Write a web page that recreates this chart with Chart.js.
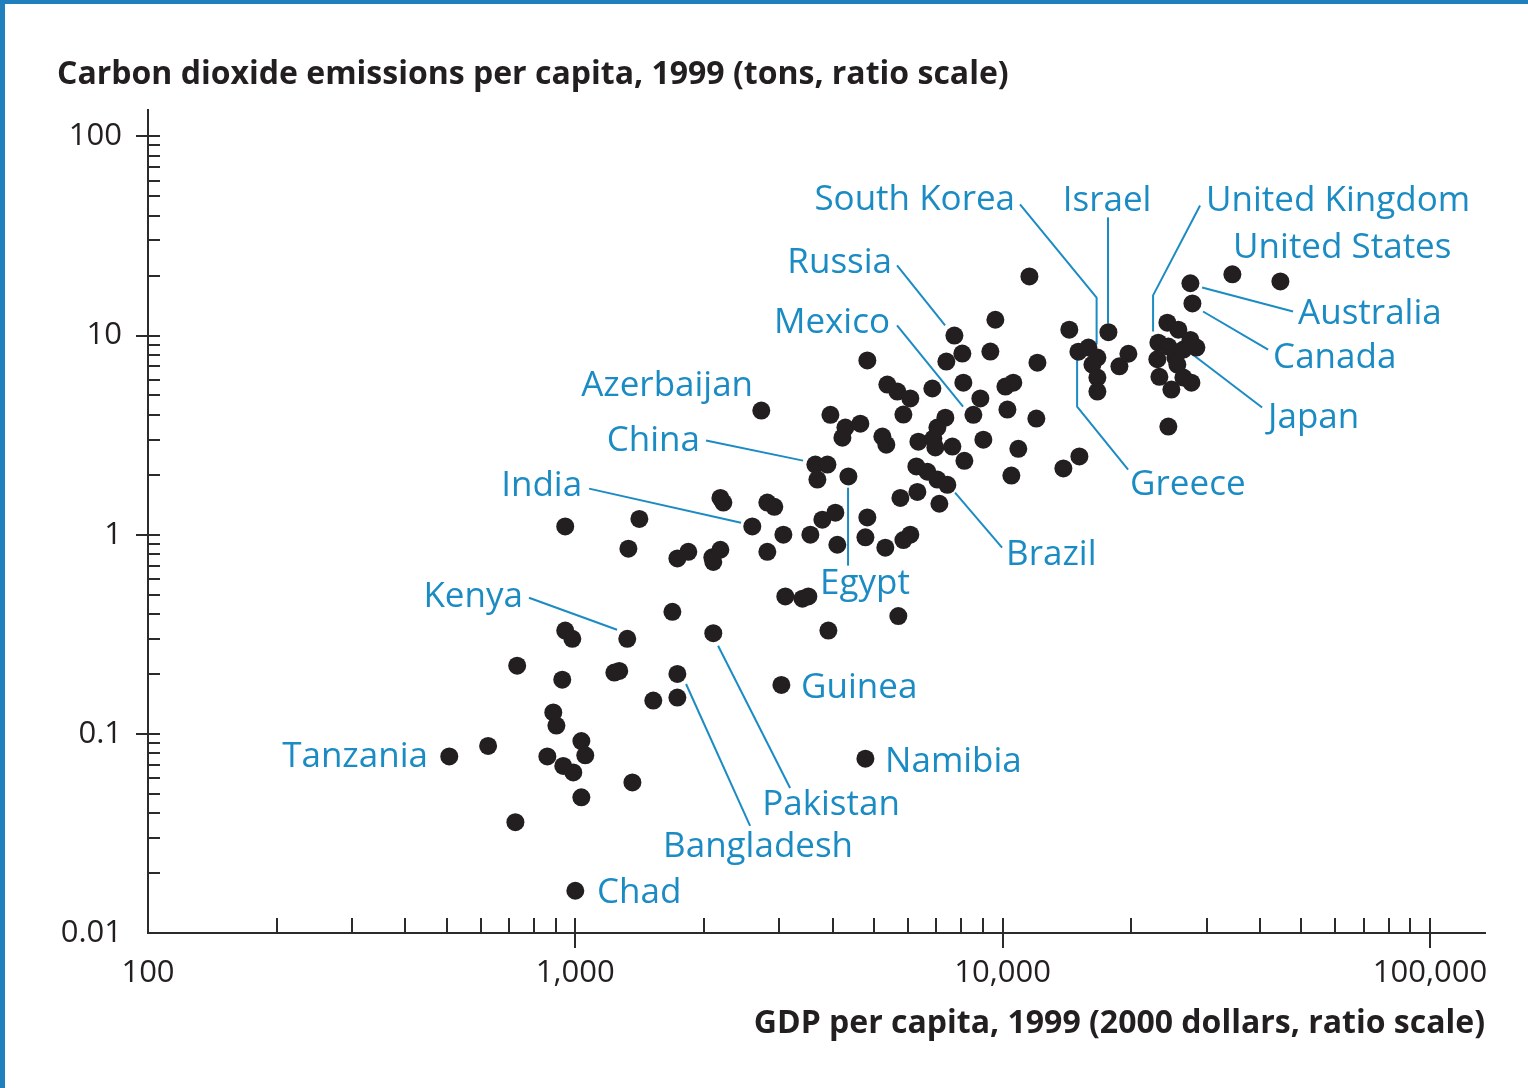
<!DOCTYPE html>
<html>
<head>
<meta charset="utf-8">
<script src="https://cdn.jsdelivr.net/npm/chart.js@4.4.1/dist/chart.umd.min.js"></script>
<style>
html, body { margin: 0; padding: 0; background: #fff; }
canvas { display: block; }
</style>
</head>
<body>
<canvas id="chart" width="1528" height="1088"></canvas>
<script>
// GDP per capita (2000 dollars) and CO2 per capita (tons), one entry per country
const gdpPerCapita = [507, 625, 724, 731, 860, 888, 903, 932, 947, 984,
  937, 989, 1033, 1055, 1033, 1000, 1360, 1323, 1234, 1267,
  1522, 1733, 1733, 1687, 2103, 3035, 4773, 3100, 3400, 3510,
  3910, 5700, 947, 1412, 1331, 1733, 1838, 2092, 2185, 2103,
  2595, 2185, 2220, 2814, 2922, 2814, 3068, 3548, 4103, 3785,
  4060, 4823, 4773, 5314, 5857, 6080, 5763, 6316, 4355, 3645,
  3890, 3685, 2724, 3953, 4285, 4645, 4217, 5230, 5343, 6350,
  4823, 5372, 5670, 6080, 5857, 6847, 7344, 7035, 6884, 6958,
  7626, 9012, 8137, 6281, 6666, 7035, 7423, 7110, 10480, 10880,
  11990, 13870, 15120, 8540, 8868, 10150, 10590, 10260, 8091, 8047,
  7383, 9359, 7710, 9614, 12060, 11550, 14320, 17680, 15040, 15870,
  16660, 16220, 16660, 16660, 18760, 19690, 24290, 25770, 23140, 27500,
  28400, 23010, 25360, 24420, 23270, 24820, 26480, 27650, 25630, 24420,
  27500, 27800, 34480, 44660, 26480];

const co2PerCapita = [0.077, 0.087, 0.036, 0.22, 0.077, 0.128, 0.11, 0.187, 0.33, 0.30,
  0.069, 0.064, 0.092, 0.078, 0.048, 0.0163, 0.057, 0.30, 0.203, 0.207,
  0.147, 0.20, 0.152, 0.41, 0.32, 0.176, 0.075, 0.49, 0.477, 0.49,
  0.33, 0.39, 1.10, 1.20, 0.85, 0.76, 0.82, 0.77, 0.84, 0.73,
  1.10, 1.53, 1.45, 1.45, 1.38, 0.82, 1.0, 1.0, 0.89, 1.19,
  1.29, 1.22, 0.97, 0.86, 0.94, 1.0, 1.53, 1.64, 1.96, 2.25,
  2.25, 1.89, 4.2, 4.0, 3.45, 3.61, 3.07, 3.11, 2.83, 2.93,
  7.5, 5.67, 5.23, 4.83, 4.01, 5.42, 3.87, 3.45, 3.04, 2.74,
  2.77, 3.0, 2.35, 2.2, 2.07, 1.89, 1.78, 1.43, 1.98, 2.7,
  3.83, 2.15, 2.47, 4.0, 4.83, 5.54, 5.8, 4.25, 5.8, 8.12,
  7.4, 8.31, 10.0, 12.0, 7.3, 19.8, 10.7, 10.4, 8.3, 8.7,
  7.75, 7.15, 6.15, 5.23, 7.0, 8.1, 11.6, 10.7, 9.2, 9.5,
  8.7, 7.6, 7.75, 8.8, 6.2, 5.35, 6.15, 5.8, 7.15, 3.49,
  18.3, 14.5, 20.3, 18.7, 8.5];

// axis ticks (decades)
const xTicks = [100, 1000, 10000, 100000];
const yTicks = [0.01, 0.1, 1, 10, 100];

const xTitle = "GDP per capita, 1999 (2000 dollars, ratio scale)";
const yTitle = "Carbon dioxide emissions per capita, 1999 (tons, ratio scale)";

// country labels, placed in data units
const labelNames = ["South Korea", "Israel", "United Kingdom", "United States", "Russia", "Mexico",
  "Azerbaijan", "China", "India", "Kenya", "Tanzania", "Chad", "Bangladesh", "Pakistan",
  "Guinea", "Namibia", "Egypt", "Brazil", "Greece", "Japan", "Canada", "Australia"];
const labelGdp = [10690, 17550, 29920, 34610, 5510, 5450, 2606, 1958, 1037, 754, 452, 1124,
  2677, 3966, 3375, 5307, 4764, 10186, 19870, 41800, 42940, 49130];
const labelCo2 = [47.8, 47.3, 47.3, 27.4, 23.1, 11.5, 5.55, 2.94, 1.745, 0.484, 0.0768, 0.0159,
  0.0271, 0.0441, 0.169, 0.0725, 0.562, 0.786, 1.767, 3.835, 7.68, 12.78];
const labelAlign = ["right", "center", "left", "left", "right", "right", "right", "right", "right",
  "right", "right", "left", "center", "center", "left", "left", "center", "left", "left",
  "left", "left", "left"];

// leader lines [gdp, co2] points
const leaderLines = [
  [[10980, 45.5], [16590, 15.52], [16590, 9.01]],   // South Korea
  [[17640, 39.2], [17640, 11.49]],                  // Israel
  [[28970, 45.0], [22490, 15.9], [22490, 10.47]],   // United Kingdom
  [[5660, 22.47], [7332, 11.23]],                   // Russia
  [[5660, 11.23], [8077, 4.40]],                    // Mexico
  [[2022, 2.968], [3411, 2.354]],                   // China
  [[1077, 1.703], [2442, 1.149]],                   // India
  [[779, 0.4825], [1252, 0.3333]],                  // Kenya
  [[2564, 0.0345], [1816, 0.178]],                  // Bangladesh
  [[3181, 0.0535], [2158, 0.277]],                  // Pakistan
  [[4347, 0.699], [4347, 1.722]],                   // Egypt
  [[9968, 0.860], [7737, 1.626]],                   // Brazil
  [[19660, 2.121], [14935, 4.40], [14935, 7.57]],   // Greece
  [[40470, 4.347], [26870, 8.506]],                 // Japan
  [[29440, 13.2], [41800, 8.506]],                  // Canada
  [[29290, 17.42], [47820, 13.2]]                   // Australia
];

const BLUE = "#1b8bc4";
const INK = "#231f20";
const AXIS = "#2b2b2b";

function isDecade(v) {
  const l = Math.log10(v);
  return Math.abs(l - Math.round(l)) < 1e-6;
}

function decadeTicks(decades, max) {
  const out = [];
  decades.forEach(d => {
    for (let m = 1; m < 10; m++) {
      const v = d * m;
      if (v <= max * 1.0001) out.push({ value: v, major: m === 1 });
    }
  });
  return out;
}

// frame, tick marks, labels and leaders
const decor = {
  id: "decor",
  beforeDraw(chart) {
    const ctx = chart.ctx;
    ctx.save();
    ctx.fillStyle = "#fff";
    ctx.fillRect(0, 0, chart.width, chart.height);
    ctx.fillStyle = "#1f80bd";
    ctx.fillRect(0, 0, chart.width, 4);
    ctx.fillRect(0, 0, 5, chart.height);
    ctx.restore();
  },
  beforeDatasetsDraw(chart) {
    const ctx = chart.ctx;
    const xs = chart.scales.x, ys = chart.scales.y;
    ctx.save();
    ctx.strokeStyle = BLUE;
    ctx.lineWidth = 2;
    leaderLines.forEach(line => {
      ctx.beginPath();
      line.forEach((p, i) => {
        const px = xs.getPixelForValue(p[0]);
        const py = ys.getPixelForValue(p[1]);
        if (i === 0) ctx.moveTo(px, py); else ctx.lineTo(px, py);
      });
      ctx.stroke();
    });
    ctx.restore();
  },
  afterDraw(chart) {
    const ctx = chart.ctx;
    const xs = chart.scales.x, ys = chart.scales.y;
    const area = chart.chartArea;
    ctx.save();
    ctx.strokeStyle = AXIS;
    ctx.lineWidth = 2;
    ctx.beginPath();
    xs.ticks.forEach(t => {
      if (t.value <= xs.min * 1.0001) return;
      const px = Math.round(xs.getPixelForValue(t.value));
      ctx.moveTo(px, area.bottom - 15);
      ctx.lineTo(px, area.bottom + (isDecade(t.value) ? 15 : 0));
    });
    ys.ticks.forEach(t => {
      if (t.value <= ys.min * 1.0001) return;
      const py = Math.round(ys.getPixelForValue(t.value));
      ctx.moveTo(area.left + 12, py);
      ctx.lineTo(area.left - (isDecade(t.value) ? 12 : 0), py);
    });
    ctx.stroke();

    ctx.fillStyle = BLUE;
    ctx.font = "35px 'Open Sans'";
    ctx.textBaseline = "middle";
    labelNames.forEach((name, i) => {
      ctx.textAlign = labelAlign[i];
      ctx.fillText(name, xs.getPixelForValue(labelGdp[i]), ys.getPixelForValue(labelCo2[i]));
    });
    ctx.restore();
  }
};

const points = gdpPerCapita.map((g, i) => ({ x: g, y: co2PerCapita[i] }));

new Chart(document.getElementById("chart"), {
  type: "scatter",
  data: {
    datasets: [{
      data: points,
      pointRadius: 9,
      pointHoverRadius: 9,
      backgroundColor: INK,
      borderWidth: 0
    }]
  },
  options: {
    responsive: false,
    animation: false,
    events: [],
    layout: { padding: { left: 57, right: 43, top: 0, bottom: 0 } },
    plugins: {
      legend: { display: false },
      tooltip: { enabled: false },
      title: {
        display: true,
        text: yTitle,
        align: "start",
        color: INK,
        font: { family: "Open Sans", size: 32, weight: "bold" },
        padding: { top: 56, bottom: 16 }
      }
    },
    scales: {
      x: {
        type: "logarithmic",
        min: 100,
        max: 134500,
        afterBuildTicks: s => { s.ticks = decadeTicks(xTicks, 134500); },
        afterFit: s => { s.height = 155; },
        grid: { display: false, drawTicks: false },
        border: { display: true, color: AXIS, width: 2 },
        ticks: {
          autoSkip: false,
          maxRotation: 0,
          padding: 22,
          color: INK,
          font: { family: "Open Sans", size: 31 },
          callback: v => isDecade(v) ? Number(v).toLocaleString("en-US") : ""
        },
        title: {
          display: true,
          text: xTitle,
          align: "end",
          color: INK,
          font: { family: "Open Sans", size: 32, weight: "bold" },
          padding: { top: 0, bottom: 45 }
        }
      },
      y: {
        type: "logarithmic",
        min: 0.01,
        max: 135,
        afterBuildTicks: s => { s.ticks = decadeTicks(yTicks, 135); },
        afterFit: s => { s.width = 91; },
        grid: { display: false, drawTicks: false },
        border: { display: true, color: AXIS, width: 2 },
        ticks: {
          autoSkip: false,
          padding: 26,
          color: INK,
          font: { family: "Open Sans", size: 31 },
          callback: v => isDecade(v) ? String(Number(v)) : ""
        }
      }
    }
  },
  plugins: [decor]
});
</script>
</body>
</html>
